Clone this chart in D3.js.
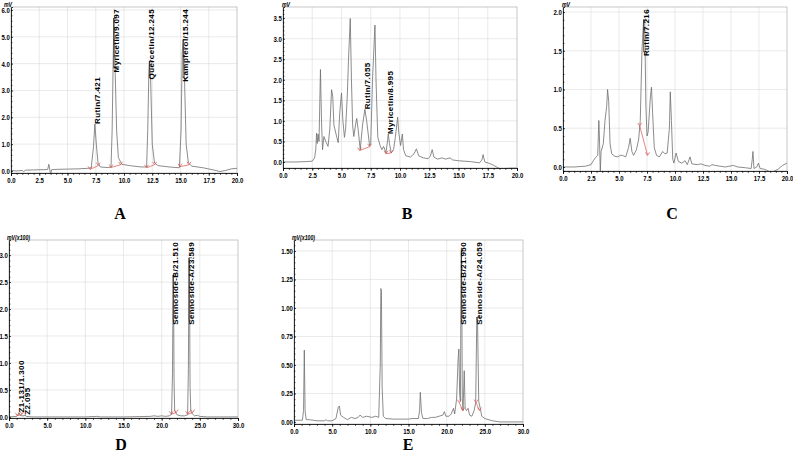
<!DOCTYPE html>
<html>
<head>
<meta charset="utf-8">
<script src="https://cdn.jsdelivr.net/npm/d3@7"></script>
<style>
  body { margin: 0; background: #fff; }
  svg { display: block; }
  .tick text { font-family: "Liberation Sans", Arial, sans-serif; font-weight: bold; font-size: 7.5px; fill: #000; }
</style>
</head>
<body>
<div id="chart"></div>
<script>
// chromatograms, time (min) vs signal
const traceA = [[0,0.02],[0.5,0.0],[1.0,0.02],[1.1,-0.02],[1.3,0.03],[2.0,0.04],[3.0,0.05],[3.25,0.06],[3.35,0.25],[3.45,0.0],[3.5,-0.12],[3.6,0.05],[4,0.06],[5,0.07],[6,0.08],[6.8,0.1],[7.1,0.12],[7.3,0.9],[7.42,1.75],[7.55,1.0],[7.7,0.3],[7.9,0.15],[8.5,0.13],[8.85,0.14],[8.95,1.5],[9.05,4.3],[9.1,5.7],[9.2,4.0],[9.35,1.5],[9.5,0.5],[9.8,0.25],[10.5,0.2],[11.5,0.15],[12.0,0.15],[12.1,1.5],[12.2,3.7],[12.25,4.1],[12.35,3.5],[12.5,1.0],[12.7,0.3],[13,0.2],[14,0.15],[14.9,0.12],[15.05,1.5],[15.15,4.4],[15.24,4.9],[15.35,3.5],[15.5,1.0],[15.7,0.3],[16,0.18],[17,0.12],[18,0.03],[18.5,-0.02],[19,0.02],[19.5,0.08],[20,0.1]];
const traceB = [[0,0.0],[1,0.0],[2,0.01],[2.5,0.02],[2.7,0.1],[2.8,0.3],[2.87,0.7],[2.93,0.45],[3.0,0.68],[3.08,0.5],[3.2,2.25],[3.3,0.9],[3.38,0.3],[3.5,0.62],[3.65,0.5],[3.85,0.38],[4.0,0.8],[4.15,1.76],[4.25,1.6],[4.35,0.9],[4.6,0.6],[4.72,0.47],[4.85,1.2],[5.0,1.68],[5.12,1.0],[5.25,0.6],[5.35,0.8],[5.5,1.65],[5.6,2.5],[5.75,3.49],[5.85,2.0],[5.95,0.9],[6.05,0.62],[6.2,0.9],[6.3,1.06],[6.42,0.8],[6.6,0.3],[6.8,0.9],[7.0,1.28],[7.15,1.0],[7.4,0.4],[7.5,0.45],[7.65,2.0],[7.86,3.33],[7.95,2.0],[8.1,0.6],[8.3,0.4],[8.45,0.3],[8.6,0.38],[8.8,0.22],[8.95,0.55],[9.0,0.68],[9.1,0.45],[9.25,0.22],[9.45,0.3],[9.6,0.6],[9.8,1.09],[9.9,0.7],[10.05,0.4],[10.2,0.68],[10.3,0.3],[10.5,0.15],[10.9,0.12],[11.2,0.2],[11.4,0.32],[11.6,0.15],[12.0,0.1],[12.4,0.08],[12.6,0.15],[12.75,0.3],[12.9,0.12],[13.2,0.07],[13.6,0.1],[13.9,0.07],[14.27,0.1],[14.5,0.05],[15,0.03],[16,0.01],[16.8,-0.02],[17.0,0.05],[17.1,0.18],[17.25,0.0],[17.6,-0.03],[18,-0.08],[18.5,-0.16],[19,-0.16],[19.5,-0.15],[20,-0.15]];
const traceC = [[0,0.0],[1,0.0],[2,0.01],[2.5,0.03],[2.7,0.08],[2.9,0.12],[3.1,0.15],[3.2,0.6],[3.25,0.4],[3.33,-0.06],[3.4,0.2],[3.6,0.3],[3.75,0.6],[3.9,0.78],[3.98,1.0],[4.08,0.85],[4.2,0.3],[4.35,0.17],[4.6,0.14],[4.9,0.13],[5.1,0.15],[5.3,0.15],[5.6,0.13],[5.85,0.25],[6.0,0.37],[6.15,0.2],[6.3,0.15],[6.55,0.22],[6.75,0.35],[6.9,0.6],[7.05,1.5],[7.2,1.9],[7.3,1.85],[7.4,0.8],[7.5,0.4],[7.6,0.45],[7.8,0.9],[7.9,1.03],[8.0,0.7],[8.15,0.25],[8.35,0.15],[8.6,0.13],[8.9,0.2],[9.1,0.17],[9.3,0.18],[9.5,0.5],[9.58,0.97],[9.68,0.6],[9.8,0.1],[9.9,0.05],[10.1,0.18],[10.3,0.07],[10.6,0.05],[10.9,0.08],[11.1,0.03],[11.34,0.13],[11.5,0.04],[12,0.03],[12.3,0.04],[12.7,0.02],[13.1,0.01],[13.3,0.03],[13.6,0.02],[14,0.01],[14.5,0.0],[15.2,0.02],[15.6,0.0],[16.3,-0.01],[16.8,-0.02],[16.9,0.1],[16.96,0.2],[17.05,-0.02],[17.3,0.0],[17.45,0.05],[17.6,-0.02],[18,-0.03],[18.3,-0.05],[18.6,-0.07],[19.2,-0.03],[19.6,0.02],[20,0.05]];
const traceD = [[0,0.0],[1.0,0.01],[1.2,0.05],[1.3,0.08],[1.45,0.03],[1.7,0.02],[2.0,0.02],[2.1,0.04],[2.25,0.01],[3,0.0],[5,0.0],[10,0.0],[11.5,0.01],[12,0.0],[15,0.0],[18.5,0.01],[19,0.02],[19.5,0.01],[20,0.02],[20.5,0.01],[21.0,0.02],[21.3,0.05],[21.42,0.8],[21.51,2.63],[21.56,2.2],[21.62,0.7],[21.7,0.12],[21.85,0.08],[22.0,0.04],[22.5,0.02],[23.0,0.02],[23.4,0.04],[23.5,0.9],[23.59,2.95],[23.65,2.4],[23.72,0.55],[23.82,0.1],[24.0,0.06],[24.3,0.02],[24.7,0.03],[25,0.01],[26,0.0],[30,0.0]];
const traceE = [[0,0.015],[1.1,0.015],[1.25,0.1],[1.35,0.63],[1.45,0.1],[1.6,0.02],[2,0.02],[2.5,0.015],[3,0.01],[4,0.01],[4.2,0.02],[4.4,0.01],[5,0.01],[5.5,0.03],[5.8,0.13],[5.95,0.14],[6.1,0.06],[6.5,0.04],[7,0.02],[7.5,0.04],[8,0.03],[8.4,0.04],[8.65,0.06],[9,0.04],[9.5,0.05],[10.2,0.04],[10.7,0.05],[11.1,0.04],[11.3,0.5],[11.38,1.17],[11.45,1.15],[11.55,0.3],[11.7,0.05],[12,0.03],[13,0.025],[14,0.025],[15,0.025],[15.5,0.03],[16.3,0.03],[16.45,0.1],[16.55,0.26],[16.7,0.08],[16.9,0.03],[17.5,0.03],[18,0.04],[18.5,0.04],[19,0.05],[19.5,0.06],[19.7,0.09],[19.9,0.05],[20.3,0.05],[20.6,0.07],[20.9,0.12],[21.05,0.07],[21.3,0.2],[21.5,0.55],[21.6,0.64],[21.7,0.25],[21.8,0.18],[21.9,1.5],[21.95,1.5],[22.05,0.2],[22.15,0.1],[22.3,0.45],[22.42,0.12],[22.6,0.1],[22.8,0.12],[23.0,0.06],[23.3,0.05],[23.6,0.1],[23.8,0.17],[23.95,0.92],[24.05,0.85],[24.2,0.18],[24.4,0.12],[24.6,0.05],[25,0.03],[26,0.01],[27,0.0],[30,0.0]];

// named peaks: label, retention time, apex height
const peaksA = [["Rutin/7.421",7.42,1.75],["Myricetin/9.097",9.1,5.7],["Quercetin/12.245",12.25,4.1],["Kampferol/15.244",15.24,4.9]];
const peaksB = [["Rutin/7.055",7.0,1.28],["Myricetin/8.995",9.0,0.68]];
const peaksC = [["Rutin/7.216",7.2,1.9]];
const peaksD = [["Z1-131/1.300",1.3,0.08],["Z2.095",2.1,0.04],["Sennoside-B/21.510",21.51,2.63],["Sennoside-A/23.589",23.59,2.95]];
const peaksE = [["Sennoside-B/21.950",21.93,1.5],["Sennoside-A/24.059",24.0,0.92]];

// integration baselines: start time, start level, end time, end level
const integA = [[7.0,0.06,7.72,0.2],[8.85,0.13,9.7,0.23],[12.0,0.12,12.7,0.23],[14.95,0.16,15.75,0.23]];
const integB = [[6.55,0.28,7.4,0.37],[8.8,0.2,9.25,0.22]];
const integC = [[6.85,0.53,7.55,0.15]];
const integD = [[1.1,0.02,1.7,0.05],[21.25,0.05,21.9,0.08],[23.4,0.05,24.05,0.08]];
const integE = [[21.65,0.17,22.1,0.1],[23.85,0.17,24.3,0.1]];

const panels = [
  {name:"A", trace:traceA, peaks:peaksA, integ:integA, box:[11,7,237,173], x:[0,20], xStep:2.5, xMinor:0.5, y:[-0.075,6.11], yStep:1, yMinor:0.2, yFmt:".1f", unit:"mV", unitX:4, letter:[120,219]},
  {name:"B", trace:traceB, peaks:peaksB, integ:integB, box:[283,7,517,168], x:[0,20], xStep:2.5, xMinor:0.5, y:[-0.146,3.77], yStep:0.5, yMinor:0.1, yFmt:".1f", unit:"mV", unitX:282, letter:[407,219]},
  {name:"C", trace:traceC, peaks:peaksC, integ:integC, box:[563,7,787,171], x:[0,20], xStep:2.5, xMinor:0.5, y:[-0.052,2.065], yStep:0.5, yMinor:0.1, yFmt:".1f", unit:"mV", unitX:562, letter:[672,219]},
  {name:"D", trace:traceD, peaks:peaksD, integ:integD, box:[9,240,238,418], x:[0,30], xStep:5, xMinor:1, y:[-0.02,3.28], yStep:0.5, yMinor:0.1, yFmt:".1f", unit:"mV(x100)", unitX:7, letter:[121,450]},
  {name:"E", trace:traceE, peaks:peaksE, integ:integE, box:[294,240,523,424], x:[0,30], xStep:5, xMinor:1, y:[-0.018,1.596], yStep:0.25, yMinor:0.05, yFmt:".2f", unit:"mV(x100)", unitX:292, letter:[408,450]}
];

const width = 793, height = 454;
const svg = d3.select("#chart").append("svg")
    .attr("width", width)
    .attr("height", height);

function steps(lo, hi, s) {
  const out = [];
  for (let i = Math.ceil(lo / s - 1e-6); i * s <= hi + 1e-6; i++) out.push(+(i * s).toFixed(4));
  return out;
}

panels.forEach(p => {
  const [x0, y0, x1, y1] = p.box;
  const x = d3.scaleLinear().domain(p.x).range([x0, x1]);
  const y = d3.scaleLinear().domain(p.y).range([y1, y0]);
  const g = svg.append("g");

  const xMaj = steps(p.x[0], p.x[1], p.xStep);
  const yMaj = steps(0, p.y[1], p.yStep);

  // grid
  g.append("g").selectAll("line").data(xMaj.slice(1, -1)).join("line")
      .attr("x1", d => x(d)).attr("x2", d => x(d))
      .attr("y1", y0).attr("y2", y1)
      .attr("stroke", "#dcdcdc").attr("stroke-width", 0.6);
  g.append("g").selectAll("line").data(yMaj.slice(1)).join("line")
      .attr("x1", x0).attr("x2", x1)
      .attr("y1", d => y(d)).attr("y2", d => y(d))
      .attr("stroke", "#dcdcdc").attr("stroke-width", 0.6);

  g.append("rect")
      .attr("x", x0).attr("y", y0)
      .attr("width", x1 - x0).attr("height", y1 - y0)
      .attr("fill", "none").attr("stroke", "#b0b0b0").attr("stroke-width", 0.7);

  // trace
  const clipId = "clip" + p.name;
  g.append("clipPath").attr("id", clipId)
    .append("rect").attr("x", x0).attr("y", y0).attr("width", x1 - x0).attr("height", y1 - y0);

  const line = d3.line().x(d => x(d[0])).y(d => y(d[1]));
  g.append("path")
      .datum(p.trace)
      .attr("clip-path", `url(#${clipId})`)
      .attr("fill", "none")
      .attr("stroke", "#6e6e6e")
      .attr("stroke-width", 0.8)
      .attr("stroke-linejoin", "round")
      .attr("d", line);

  // integration marks
  const ig = g.append("g").attr("stroke", "#d9534f").attr("stroke-width", 0.7).attr("fill", "none");
  p.integ.forEach(s => {
    ig.append("line")
        .attr("x1", x(s[0])).attr("y1", y(s[1]))
        .attr("x2", x(s[2])).attr("y2", y(s[3]));
    [[s[0], s[1]], [s[2], s[3]]].forEach(m => {
      const cx = x(m[0]), cy = y(m[1]);
      ig.append("path").attr("d", `M${cx - 2},${cy - 3}L${cx},${cy}L${cx + 2},${cy - 3}`);
    });
  });

  // axes
  const xAxis = g.append("g").attr("transform", `translate(0,${y1})`)
      .call(d3.axisBottom(x).tickValues(xMaj).tickFormat(d3.format(".1f")).tickSize(3).tickPadding(2));
  g.append("g").attr("transform", `translate(0,${y1})`)
      .call(d3.axisBottom(x).tickValues(steps(p.x[0], p.x[1], p.xMinor)).tickFormat("").tickSize(2))
      .call(a => a.select(".domain").remove());
  const yAxis = g.append("g").attr("transform", `translate(${x0},0)`)
      .call(d3.axisLeft(y).tickValues(yMaj).tickFormat(d3.format(p.yFmt)).tickSize(-2).tickPadding(1.5));
  g.append("g").attr("transform", `translate(${x0},0)`)
      .call(d3.axisLeft(y).tickValues(steps(0, p.y[1], p.yMinor)).tickFormat("").tickSize(-1.5))
      .call(a => a.select(".domain").remove());
  [xAxis, yAxis].forEach(a => {
    a.select(".domain").attr("stroke", "#000").attr("stroke-width", 0.8);
  });
  g.selectAll(".tick line").attr("stroke", "#000").attr("stroke-width", 0.6);
  // condensed look of the instrument's tick font
  g.selectAll(".tick text").attr("transform", "scale(0.8,1)");

  g.append("text")
      .attr("transform", `translate(${p.unitX},${y0 - 0.5}) scale(0.8,1)`)
      .attr("font-family", "\"Liberation Sans\", Arial, sans-serif")
      .attr("font-style", "italic").attr("font-weight", "bold")
      .attr("font-size", 6.5).text(p.unit);

  // peak labels
  p.peaks.forEach(pk => {
    const px = x(pk[1]), py = y(pk[2]);
    const t = g.append("text")
        .attr("font-family", "\"Liberation Sans\", Arial, sans-serif")
        .attr("font-weight", "bold").attr("font-size", 8)
        .attr("letter-spacing", 0.4)
        .text(pk[0]);
    const len = t.node().getComputedTextLength();
    const bottom = Math.max(py, y0 + 2 + len);
    t.attr("transform", `translate(${px + 5},${bottom}) rotate(-90)`);
    if (bottom > py + 1) {
      g.append("line")
          .attr("x1", px).attr("x2", px).attr("y1", py).attr("y2", bottom - 4)
          .attr("stroke", "#000").attr("stroke-width", 0.6);
      g.append("line")
          .attr("x1", px).attr("x2", px + 3).attr("y1", py).attr("y2", py)
          .attr("stroke", "#000").attr("stroke-width", 0.6);
    }
  });

  svg.append("text")
      .attr("x", p.letter[0]).attr("y", p.letter[1])
      .attr("text-anchor", "middle")
      .attr("font-family", "\"Liberation Serif\", \"Times New Roman\", serif")
      .attr("font-weight", "bold").attr("font-size", 16)
      .text(p.name);
});
</script>
</body>
</html>
